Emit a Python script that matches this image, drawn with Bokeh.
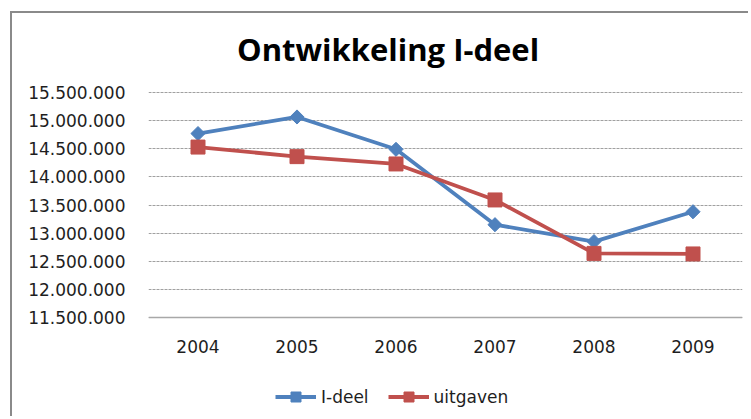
import math
from bokeh.plotting import figure
from bokeh.models import FactorRange, Range1d, FixedTicker, Legend, LegendItem, Label
from bokeh.embed import file_html
from bokeh.resources import INLINE

# ---- data ----
years = ["2004", "2005", "2006", "2007", "2008", "2009"]
ideel = [14770000, 15065000, 14490000, 13150000, 12850000, 13380000]
uitgaven = [14530000, 14360000, 14230000, 13590000, 12640000, 12630000]
y_ticks = [11500000, 12000000, 12500000, 13000000, 13500000,
           14000000, 14500000, 15000000, 15500000]
y_tick_labels = ["11.500.000", "12.000.000", "12.500.000", "13.000.000", "13.500.000",
                 "14.000.000", "14.500.000", "15.000.000", "15.500.000"]
title_text = "Ontwikkeling I-deel"
series_names = ["I-deel", "uitgaven"]

BLUE = "#4F81BD"
RED = "#C0504D"
TXT = "#1e1e1e"
FONT = "DejaVu Sans"

# ---- layout (pixels on the canvas) ----
W, H = 738, 405
LEFT, RIGHT = 136, 8
AX_TOP_PX, AX_BOT_PX = 79, 304          # where the top / bottom tick sit (canvas px)
ppu = (AX_BOT_PX - AX_TOP_PX) / (y_ticks[-1] - y_ticks[0])
y_end = y_ticks[-1] + AX_TOP_PX / ppu
y_start = y_ticks[0] - (H - AX_BOT_PX) / ppu

p = figure(
    x_range=FactorRange(*years),
    y_range=Range1d(y_start, y_end),
    width=W, height=H,
    output_backend="svg", toolbar_location=None,
    min_border_left=LEFT, min_border_right=RIGHT,
    min_border_top=0, min_border_bottom=0,
)
p.title.visible = False
p.styles = {"border-left": "2px solid #8a8a8a", "border-top": "2px solid #8a8a8a"}
p.margin = (11, 0, 0, 10)

p.outline_line_color = None
p.background_fill_color = "white"
p.border_fill_color = "white"

# title (inside the frame)
title_baseline_px = 35
p.add_layout(Label(
    x=2.42, y=y_end - title_baseline_px / ppu,
    text=title_text, text_align="center", text_baseline="alphabetic",
    text_font="Open Sans", text_font_size="31px", text_font_style="bold",
    text_color="black",
))

# grid
p.xgrid.visible = False
p.ygrid.grid_line_color = "#a0a0a0"
p.ygrid.grid_line_dash = "3 1"
p.ygrid.grid_line_width = 1

# y axis
p.yaxis.ticker = FixedTicker(ticks=y_ticks)
p.yaxis.major_label_overrides = {t: l for t, l in zip(y_ticks, y_tick_labels)}
p.yaxis.axis_line_color = None
p.yaxis.major_tick_line_color = None
p.yaxis.minor_tick_line_color = None
p.yaxis.major_label_standoff = 17
p.yaxis.major_label_text_font = FONT
p.yaxis.major_label_text_font_size = "17px"
p.yaxis.major_label_text_color = TXT

# x axis, fixed at the bottom tick
p.xaxis.fixed_location = y_ticks[0]
p.xaxis.axis_line_color = "#a8a8a8"
p.xaxis.axis_line_width = 1.5
p.xaxis.major_tick_line_color = None
p.xaxis.minor_tick_line_color = None
p.xaxis.major_label_standoff = 16
p.xaxis.major_label_text_font = FONT
p.xaxis.major_label_text_font_size = "17px"
p.xaxis.major_label_text_color = TXT

# series
l1 = p.line(years, ideel, line_color=BLUE, line_width=3.8)
s1 = p.scatter(years, ideel, marker="square", angle=math.pi / 4, size=10,
               fill_color=BLUE, line_color=BLUE)
l2 = p.line(years, uitgaven, line_color=RED, line_width=3.8)
s2 = p.scatter(years, uitgaven, marker="square", size=14,
               fill_color=RED, line_color=RED)

legend = Legend(
    items=[LegendItem(label=series_names[0], renderers=[l1, s1]),
           LegendItem(label=series_names[1], renderers=[l2, s2])],
    orientation="horizontal",
    location=(127, 9),
    padding=0, margin=0,
    border_line_color=None, background_fill_alpha=0,
    glyph_width=41, glyph_height=25, label_standoff=5, spacing=19,
    label_text_font=FONT, label_text_font_size="17px", label_text_color=TXT,
)
p.add_layout(legend, "center")

open("out.html", "w").write(file_html(p, INLINE))
